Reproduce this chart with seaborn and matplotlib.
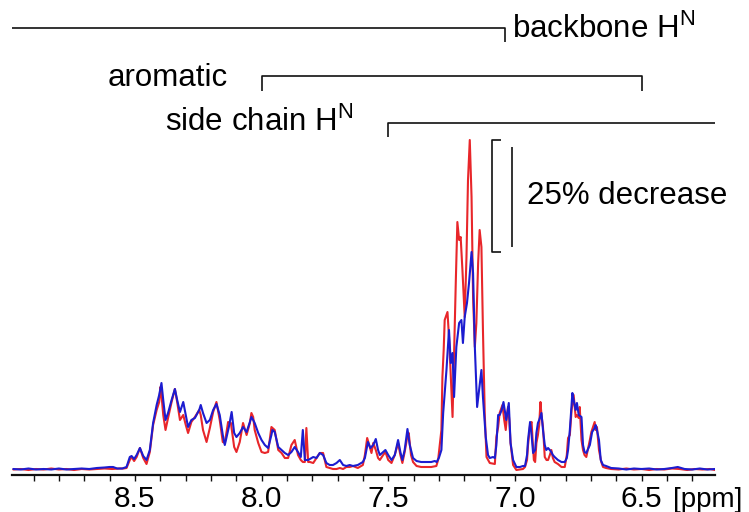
import matplotlib
matplotlib.use("Agg")
import matplotlib.pyplot as plt
from matplotlib.ticker import MultipleLocator, FormatStrFormatter
import seaborn as sns
import pandas as pd

# ---------------- data (ppm, intensity) ----------------
red_points = [
    (8.98, 0.5), (8.95, 1.0), (8.92, 0.0), (8.89, 1.0), (8.86, 0.5), (8.83, 1.5), (8.80, 0.5),
    (8.77, 1.0), (8.74, 0.0), (8.71, 1.0), (8.68, 0.5), (8.65, 1.0), (8.62, 1.5), (8.59, 1.0),
    (8.56, 1.5), (8.545, 1.5), (8.533, 2), (8.520, 10), (8.513, 13), (8.503, 9), (8.493, 13),
    (8.480, 22), (8.467, 12), (8.454, 6), (8.441, 18), (8.428, 45), (8.414, 60), (8.404, 68),
    (8.399, 83), (8.395, 75), (8.388, 55), (8.379, 40), (8.369, 52), (8.355, 68), (8.342, 81),
    (8.333, 68), (8.322, 50), (8.309, 55), (8.299, 45), (8.290, 37), (8.277, 48), (8.263, 53),
    (8.246, 60), (8.240, 55), (8.231, 40), (8.217, 28), (8.204, 42), (8.191, 58), (8.178, 68),
    (8.165, 50), (8.153, 28), (8.145, 27), (8.132, 48), (8.121, 47), (8.108, 23), (8.099, 18),
    (8.086, 28), (8.073, 47), (8.059, 35), (8.046, 47), (8.040, 57), (8.033, 53), (8.027, 40),
    (8.013, 27), (8.000, 18), (7.987, 17), (7.974, 18), (7.961, 43), (7.948, 40), (7.934, 20),
    (7.921, 17), (7.908, 12), (7.895, 12), (7.882, 25), (7.869, 30), (7.856, 15), (7.845, 10),
    (7.837, 8), (7.829, 8), (7.823, 42), (7.816, 8), (7.809, 8), (7.796, 7), (7.783, 12),
    (7.770, 17), (7.757, 17), (7.744, 3), (7.731, 2), (7.718, 1), (7.704, 1), (7.691, 2),
    (7.678, 1), (7.665, 3), (7.652, 3), (7.639, 4), (7.620, 2), (7.600, 5), (7.592, 15),
    (7.583, 32), (7.575, 25), (7.566, 17), (7.559, 27), (7.549, 20), (7.540, 12), (7.533, 10),
    (7.520, 15), (7.511, 18), (7.500, 10), (7.487, 7), (7.474, 15), (7.461, 27), (7.452, 15),
    (7.444, 7), (7.435, 18), (7.424, 34), (7.419, 37), (7.410, 15), (7.402, 8), (7.388, 4),
    (7.370, 3), (7.350, 3), (7.330, 3), (7.310, 4), (7.303, 10), (7.290, 40), (7.286, 93),
    (7.281, 120), (7.277, 150), (7.270, 155), (7.266, 158), (7.260, 133), (7.254, 100),
    (7.246, 53), (7.241, 107), (7.233, 190), (7.227, 248), (7.220, 230), (7.214, 233),
    (7.207, 200), (7.198, 153), (7.191, 213), (7.185, 290), (7.178, 330), (7.171, 273),
    (7.165, 173), (7.158, 123), (7.152, 147), (7.145, 207), (7.139, 240), (7.132, 223),
    (7.126, 140), (7.119, 57), (7.112, 13), (7.099, 7), (7.079, 6), (7.073, 33), (7.066, 43),
    (7.060, 57), (7.049, 65), (7.042, 50), (7.036, 40), (7.031, 55), (7.027, 63), (7.022, 50),
    (7.017, 27), (7.007, 5), (6.994, 0), (6.980, 0.5), (6.968, 1), (6.960, 3), (6.952, 10),
    (6.948, 25), (6.940, 45), (6.934, 48), (6.930, 30), (6.925, 10), (6.920, 8), (6.915, 27),
    (6.909, 35), (6.904, 45), (6.899, 68), (6.895, 55), (6.889, 43), (6.882, 13), (6.875, 10),
    (6.869, 10), (6.862, 15), (6.856, 20), (6.850, 12), (6.843, 8), (6.830, 6), (6.816, 3),
    (6.803, 3), (6.795, 15), (6.790, 32), (6.783, 35), (6.776, 60), (6.768, 75), (6.760, 53),
    (6.755, 55), (6.748, 52), (6.744, 63), (6.737, 30), (6.731, 20), (6.725, 15), (6.718, 13),
    (6.704, 30), (6.698, 38), (6.685, 48), (6.681, 40), (6.676, 43), (6.668, 20), (6.659, 8),
    (6.652, 3), (6.640, 2), (6.620, 1), (6.59, 0.5), (6.56, 1.5), (6.53, 0.5), (6.50, 1),
    (6.47, 0), (6.44, 1), (6.41, 0.5), (6.38, 1.5), (6.35, 1), (6.32, 0), (6.29, 1),
    (6.26, 0.5), (6.23, 1), (6.21, 0),
]

blue_points = [
    (8.98, 1), (8.95, 0.5), (8.92, 1.5), (8.89, 0.5), (8.86, 1), (8.83, 0.5), (8.80, 1.5),
    (8.77, 0.5), (8.74, 1), (8.71, 1.5), (8.68, 1), (8.65, 2), (8.62, 2.5), (8.60, 3),
    (8.586, 3), (8.57, 1.5), (8.55, 1.5), (8.533, 3), (8.520, 13), (8.513, 14), (8.503, 11),
    (8.493, 15), (8.480, 22), (8.467, 14), (8.454, 10), (8.441, 20), (8.428, 47), (8.414, 65),
    (8.404, 75), (8.395, 87), (8.388, 70), (8.379, 50), (8.369, 57), (8.355, 70), (8.342, 81),
    (8.333, 70), (8.322, 58), (8.309, 68), (8.299, 55), (8.290, 43), (8.277, 50), (8.263, 52),
    (8.246, 60), (8.240, 65), (8.231, 57), (8.217, 47), (8.204, 50), (8.191, 60), (8.178, 66),
    (8.165, 55), (8.153, 35), (8.145, 25), (8.129, 43), (8.118, 58), (8.108, 37), (8.099, 33),
    (8.086, 37), (8.073, 43), (8.059, 38), (8.046, 48), (8.040, 53), (8.033, 50), (8.027, 47),
    (8.013, 37), (8.000, 30), (7.987, 25), (7.974, 22), (7.961, 35), (7.957, 40), (7.948, 38),
    (7.934, 23), (7.921, 20), (7.908, 17), (7.895, 15), (7.882, 18), (7.869, 23), (7.856, 18),
    (7.845, 13), (7.837, 40), (7.829, 10), (7.823, 10), (7.816, 10), (7.809, 11), (7.796, 13),
    (7.783, 12), (7.770, 17), (7.757, 15), (7.744, 7), (7.731, 5), (7.718, 5), (7.704, 7),
    (7.691, 10), (7.678, 5), (7.665, 4), (7.652, 5), (7.639, 4), (7.620, 5), (7.600, 8),
    (7.592, 12), (7.580, 28), (7.570, 22), (7.559, 25), (7.549, 31), (7.540, 20), (7.533, 15),
    (7.520, 18), (7.511, 20), (7.500, 15), (7.487, 10), (7.474, 15), (7.461, 30), (7.452, 18),
    (7.444, 10), (7.435, 20), (7.424, 41), (7.415, 25), (7.402, 12), (7.388, 9), (7.370, 8),
    (7.350, 8), (7.330, 8), (7.316, 9), (7.309, 8), (7.300, 12), (7.290, 20), (7.283, 57),
    (7.270, 100), (7.260, 140), (7.253, 107), (7.246, 117), (7.240, 73), (7.231, 123),
    (7.220, 147), (7.211, 150), (7.205, 127), (7.198, 153), (7.189, 167), (7.181, 187),
    (7.171, 218), (7.165, 197), (7.158, 123), (7.149, 63), (7.141, 80), (7.132, 100),
    (7.126, 73), (7.115, 33), (7.106, 15), (7.099, 12), (7.086, 13), (7.079, 12), (7.073, 25),
    (7.066, 55), (7.060, 55), (7.052, 60), (7.045, 68), (7.040, 60), (7.034, 50), (7.028, 60),
    (7.024, 67), (7.017, 27), (7.007, 10), (6.994, 3), (6.980, 3), (6.968, 4), (6.960, 4),
    (6.952, 15), (6.948, 30), (6.940, 48), (6.934, 35), (6.928, 17), (6.920, 20), (6.915, 37),
    (6.909, 47), (6.904, 50), (6.895, 57), (6.889, 40), (6.882, 25), (6.876, 20), (6.869, 22),
    (6.862, 20), (6.856, 18), (6.850, 15), (6.843, 13), (6.830, 10), (6.816, 8), (6.803, 8),
    (6.795, 12), (6.790, 20), (6.783, 40), (6.773, 77), (6.768, 70), (6.760, 60), (6.755, 67),
    (6.748, 55), (6.737, 53), (6.731, 25), (6.725, 18), (6.718, 17), (6.704, 25), (6.695, 38),
    (6.685, 42), (6.681, 45), (6.676, 40), (6.668, 30), (6.661, 10), (6.652, 5), (6.640, 4),
    (6.620, 2), (6.59, 1.5), (6.56, 0.5), (6.53, 1.5), (6.50, 1), (6.47, 1.5), (6.44, 0.5),
    (6.41, 1), (6.38, 2), (6.357, 3), (6.33, 1), (6.30, 0.5), (6.27, 1.5), (6.24, 0.5),
    (6.21, 1),
]

# region annotations: (start ppm, end ppm)
backbone_range = (8.985, 7.04)
aromatic_range = (8.0, 6.5)
sidechain_range = (7.5, 6.21)
decrease_label = "25% decrease"
x_unit = "[ppm]"

# ---------------- styling ----------------
sns.set_style("white")
plt.rcParams["font.family"] = ["Liberation Sans", "DejaVu Sans"]
plt.rcParams["mathtext.default"] = "regular"
plt.rcParams["text.color"] = "black"
plt.rcParams["xtick.color"] = "black"
plt.rcParams["xtick.labelcolor"] = "black"

RED = "#e8262a"
BLUE = "#1c1cd0"
INK = "#111111"

red_df = pd.DataFrame(red_points, columns=["ppm", "intensity"])
blue_df = pd.DataFrame(blue_points, columns=["ppm", "intensity"])

fig = plt.figure(figsize=(7.49, 5.12), dpi=100)
ax = fig.add_axes([12 / 749, 37 / 512, 703 / 749, 475 / 512])

sns.lineplot(data=red_df, x="ppm", y="intensity", sort=False, estimator=None,
             color=RED, lw=1.5, ax=ax)
sns.lineplot(data=blue_df, x="ppm", y="intensity", sort=False, estimator=None,
             color=BLUE, lw=1.5, ax=ax)

ax.set_xlim(8.985, 6.21)
ax.set_ylim(-5, 470)
ax.set_xlabel("")
ax.set_ylabel("")
ax.set_yticks([])
for s in ["left", "right", "top"]:
    ax.spines[s].set_visible(False)
ax.spines["bottom"].set_linewidth(1.6)
ax.spines["bottom"].set_color(INK)
ax.xaxis.set_major_locator(MultipleLocator(0.5))
ax.xaxis.set_minor_locator(MultipleLocator(0.1))
ax.xaxis.set_major_formatter(FormatStrFormatter("%.1f"))
ax.tick_params(axis="x", which="both", direction="out", length=4, width=1.0,
               color=INK, labelsize=21.5, pad=3, bottom=True, labelcolor="black")

fig.text(673 / 749, 5 / 512, x_unit, fontsize=20, va="baseline", ha="left", color="black")

# ---------------- annotations ----------------
kw = dict(color=INK, lw=1.2, clip_on=False, solid_capstyle="butt")
tsz = 22.5

# backbone H^N
ax.plot([backbone_range[0], backbone_range[1], backbone_range[1]], [442, 442, 428], **kw)
ax.text(7.012, 432, "backbone H$^{N}$", fontsize=tsz, va="baseline", ha="left")

# aromatic
ax.plot([aromatic_range[0], aromatic_range[0], aromatic_range[1], aromatic_range[1]],
        [379, 394, 394, 379], **kw)
ax.text(8.607, 384, "aromatic", fontsize=tsz, va="baseline", ha="left")

# side chain H^N
ax.plot([sidechain_range[0], sidechain_range[0], sidechain_range[1]], [333, 347, 347], **kw)
ax.text(8.382, 339, "side chain H$^{N}$", fontsize=tsz, va="baseline", ha="left")

# 25% decrease bracket: spans red maximum down to blue maximum
top = red_df["intensity"].max()
bot = blue_df["intensity"].max()
ax.plot([7.053, 7.090, 7.090, 7.053], [top, top, bot, bot], **kw)
ax.plot([7.010, 7.010], [top - 7, bot + 5], **kw)
ax.text(6.953, (top + bot) / 2, decrease_label, fontsize=tsz, va="center", ha="left")

fig.savefig("out.png", dpi=100)
